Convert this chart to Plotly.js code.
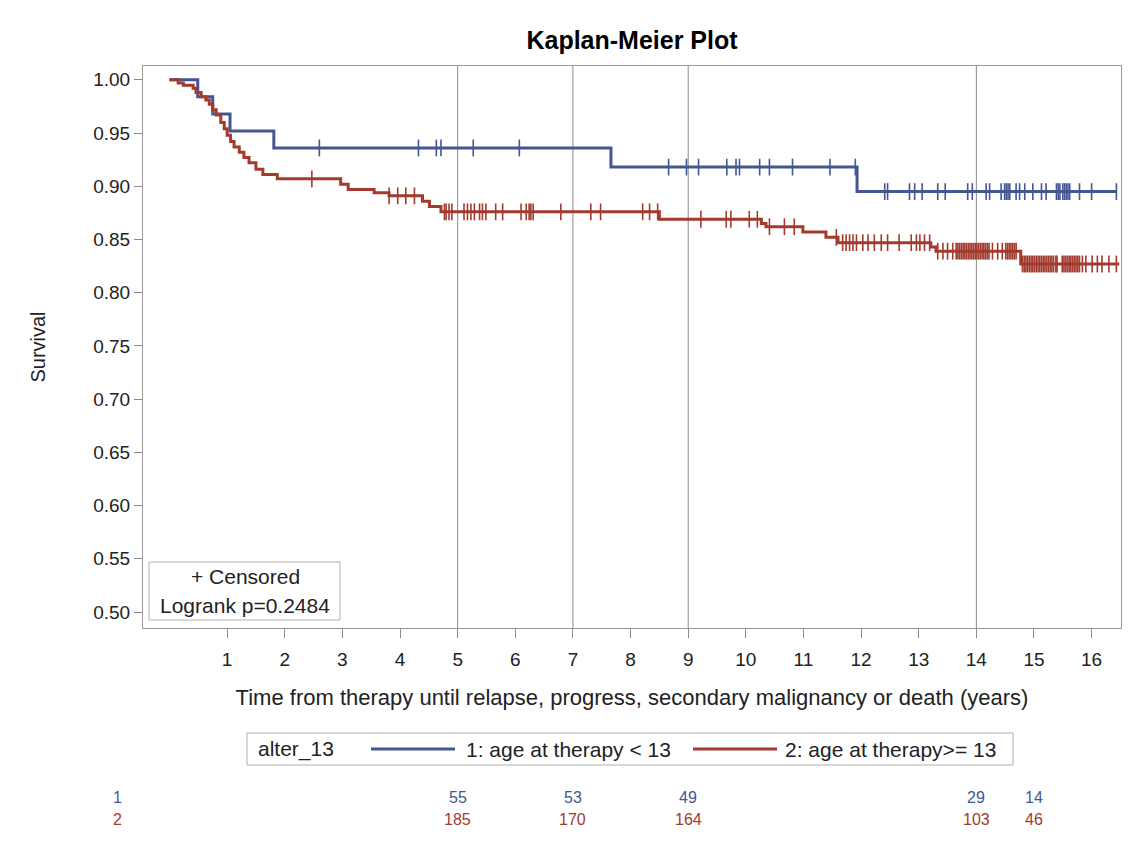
<!DOCTYPE html>
<html>
<head>
<meta charset="utf-8">
<script src="https://cdn.plot.ly/plotly-3.0.1.min.js"></script>
<style>
html,body{margin:0;padding:0;background:#fff;}
#chart{width:1133px;height:849px;}
</style>
</head>
<body>
<div id="chart"></div>
<script>
// ---- data ----
const group1Label = "1: age at therapy < 13";
const group2Label = "2: age at therapy>= 13";

// step function (event times and survival after each step), group 1
const g1Times = [0, 0.49, 0.75, 1.05, 1.81, 7.66, 11.93, 16.43];
const g1Surv  = [1.0, 0.984, 0.968, 0.952, 0.936, 0.918, 0.895, 0.895];
const g1Censor = [2.6, 4.32, 4.63, 4.71, 5.27, 6.07, 8.66, 8.97, 9.18, 9.67, 9.83, 9.89,
  10.24, 10.41, 10.81, 11.46, 11.9, 12.41, 12.46, 12.84, 12.93, 13.06, 13.33, 13.46,
  13.85, 13.93, 14.17, 14.23, 14.43, 14.49, 14.52, 14.55, 14.58, 14.69, 14.75, 14.84,
  14.98, 15.13, 15.21, 15.39, 15.42, 15.45, 15.5, 15.53, 15.56, 15.59, 15.62, 15.79, 16.0, 16.43];

// group 2
const g2Times = [0, 0.15, 0.24, 0.41, 0.46, 0.55, 0.63, 0.69, 0.75, 0.81, 0.89, 0.95, 1.0,
  1.06, 1.12, 1.21, 1.29, 1.38, 1.5, 1.62, 1.87, 2.97, 3.1, 3.55, 3.81, 4.39, 4.51, 4.71,
  8.5, 10.27, 10.35, 10.99, 11.39, 11.6, 13.21, 13.3, 14.77, 16.48];
const g2Surv = [1.0, 0.997, 0.995, 0.992, 0.988, 0.984, 0.981, 0.977, 0.972, 0.967, 0.960,
  0.954, 0.948, 0.942, 0.937, 0.932, 0.927, 0.922, 0.916, 0.911, 0.907, 0.902, 0.897,
  0.894, 0.891, 0.886, 0.881, 0.876, 0.869, 0.865, 0.862, 0.857, 0.852, 0.847, 0.843,
  0.839, 0.827, 0.827];
const g2Censor = [2.47, 3.81, 3.96, 4.1, 4.25, 4.77, 4.8, 4.85, 4.9, 5.11, 5.17, 5.23, 5.29,
  5.38, 5.43, 5.49, 5.66, 5.78, 6.1, 6.19, 6.24, 6.27, 6.31, 6.79, 7.31, 7.48, 8.21, 8.33,
  8.47, 9.22, 9.66, 9.74, 10.06, 10.2, 10.41, 10.67, 10.84, 11.57, 11.68, 11.74, 11.8,
  11.86, 11.92, 12.03, 12.12, 12.23, 12.35, 12.46, 12.66, 12.87, 12.96, 13.02, 13.1, 13.19,
  13.33, 13.42, 13.5, 13.59, 13.65, 13.68, 13.71, 13.74, 13.77, 13.8, 13.83, 13.86, 13.89,
  13.92, 13.95, 13.98, 14.01, 14.04, 14.07, 14.1, 14.13, 14.16, 14.19, 14.22, 14.28, 14.37,
  14.45, 14.51, 14.54, 14.57, 14.6, 14.63, 14.66, 14.69, 14.8, 14.83, 14.86, 14.89, 14.92,
  14.95, 14.98, 15.01, 15.04, 15.07, 15.1, 15.13, 15.16, 15.19, 15.22, 15.25, 15.28, 15.31,
  15.34, 15.38, 15.4, 15.49, 15.52, 15.55, 15.58, 15.61, 15.64, 15.67, 15.7, 15.73, 15.76,
  15.79, 15.84, 15.9, 16.01, 16.1, 16.18, 16.3, 16.43];

// numbers at risk
const atRiskTimes = [5, 7, 9, 14, 15];
const atRisk1 = [55, 53, 49, 29, 14];
const atRisk2 = [185, 170, 164, 103, 46];
const refLineTimes = [5, 7, 9, 14];

const xTicks = [1,2,3,4,5,6,7,8,9,10,11,12,13,14,15,16];
const yTicks = [0.50,0.55,0.60,0.65,0.70,0.75,0.80,0.85,0.90,0.95,1.00];

const pValueText = "Logrank p=0.2484";

// ---- styling ----
const C1 = '#445694', C2 = '#A23A2E';
const FONT = 'Liberation Sans, Arial, sans-serif';

function survAt(times, surv, t){
  let s = surv[0];
  for (let i = 0; i < times.length; i++){ if (times[i] <= t) s = surv[i]; }
  return s;
}

const traces = [
  {x: g1Times, y: g1Surv, mode: 'lines', line: {shape: 'hv', color: C1, width: 3}, name: group1Label, showlegend: false, hoverinfo: 'skip'},
  {x: g2Times, y: g2Surv, mode: 'lines', line: {shape: 'hv', color: C2, width: 3}, name: group2Label, showlegend: false, hoverinfo: 'skip'},
  {x: g1Censor, y: g1Censor.map(t => survAt(g1Times, g1Surv, t)), mode: 'markers',
   marker: {symbol: 'line-ns', size: 12, line: {color: C1, width: 1.6}}, showlegend: false, hoverinfo: 'skip'},
  {x: g2Censor, y: g2Censor.map(t => survAt(g2Times, g2Surv, t)), mode: 'markers',
   marker: {symbol: 'line-ns', size: 12, line: {color: C2, width: 1.6}}, showlegend: false, hoverinfo: 'skip'}
];

// plot area in pixels: left 143, right 1121, top 66, bottom 628
const PL = 143, PR = 1121, PT = 66, PB = 628;
const px = v => (v - PL) / (PR - PL);
const py = v => (PB - v) / (PB - PT);

const shapes = [];
refLineTimes.forEach(t => shapes.push({type: 'line', xref: 'x', yref: 'paper', x0: t, x1: t, y0: 0, y1: 1,
  line: {color: '#8a8a8a', width: 1}, layer: 'below'}));
// inset box
shapes.push({type: 'rect', xref: 'paper', yref: 'paper', x0: px(149), x1: px(340), y0: py(620), y1: py(562),
  line: {color: '#b0b0b0', width: 1}, fillcolor: 'rgba(0,0,0,0)'});
// legend box and samples
shapes.push({type: 'rect', xref: 'paper', yref: 'paper', x0: px(247), x1: px(1013), y0: py(765), y1: py(733),
  line: {color: '#b0b0b0', width: 1}, fillcolor: 'rgba(0,0,0,0)'});
shapes.push({type: 'line', xref: 'paper', yref: 'paper', x0: px(371), x1: px(455), y0: py(749), y1: py(749),
  line: {color: C1, width: 3}});
shapes.push({type: 'line', xref: 'paper', yref: 'paper', x0: px(693), x1: px(777), y0: py(749), y1: py(749),
  line: {color: C2, width: 3}});

const annotations = [
  {xref: 'paper', yref: 'paper', x: px(245), y: py(576), text: '+ Censored', showarrow: false, xanchor: 'center', yanchor: 'middle', font: {size: 21, color: '#222'}},
  {xref: 'paper', yref: 'paper', x: px(245), y: py(605), text: pValueText, showarrow: false, xanchor: 'center', yanchor: 'middle', font: {size: 21, color: '#222'}},
  {xref: 'paper', yref: 'paper', x: px(256), y: py(749), text: 'alter_13', showarrow: false, xanchor: 'left', yanchor: 'middle', font: {size: 21, color: '#222'}},
  {xref: 'paper', yref: 'paper', x: px(464), y: py(749), text: group1Label, showarrow: false, xanchor: 'left', yanchor: 'middle', font: {size: 21, color: '#222'}},
  {xref: 'paper', yref: 'paper', x: px(783), y: py(749), text: group2Label, showarrow: false, xanchor: 'left', yanchor: 'middle', font: {size: 21, color: '#222'}},
  {xref: 'paper', yref: 'paper', x: px(117), y: py(797), text: '1', showarrow: false, xanchor: 'center', yanchor: 'middle', font: {size: 16, color: C1}},
  {xref: 'paper', yref: 'paper', x: px(117), y: py(819), text: '2', showarrow: false, xanchor: 'center', yanchor: 'middle', font: {size: 16, color: C2}}
];
atRiskTimes.forEach((t, i) => {
  annotations.push({xref: 'x', yref: 'paper', x: t, y: py(797), text: String(atRisk1[i]), showarrow: false, xanchor: 'center', yanchor: 'middle', font: {size: 16, color: C1}});
  annotations.push({xref: 'x', yref: 'paper', x: t, y: py(819), text: String(atRisk2[i]), showarrow: false, xanchor: 'center', yanchor: 'middle', font: {size: 16, color: C2}});
});

const layout = {
  width: 1133, height: 849,
  margin: {l: PL, r: 1133 - PR, t: PT, b: 849 - PB, pad: 0},
  paper_bgcolor: '#fff', plot_bgcolor: '#fff',
  font: {family: FONT, color: '#222'},
  title: {text: '<b>Kaplan-Meier Plot</b>', x: 0.5, xref: 'paper', y: 1 - 40/849, yref: 'container', yanchor: 'middle', font: {size: 25, color: '#000'}},
  xaxis: {range: [-0.46, 16.51], tickvals: xTicks, ticktext: xTicks.map(String), ticks: 'outside', ticklen: 9, tickcolor: '#8a8a8a',
    ticklabelstandoff: 5,
    showgrid: false, zeroline: false, showline: true, mirror: true, linecolor: '#9a9a9a', linewidth: 1,
    tickfont: {size: 19, color: '#222'},
    title: {text: 'Time from therapy until relapse, progress, secondary malignancy or death (years)', font: {size: 22, color: '#222'}, standoff: 20},
    automargin: false},
  yaxis: {range: [0.485, 1.013], tickvals: yTicks, tickformat: '.2f', ticks: 'outside', ticklen: 8, tickcolor: '#8a8a8a',
    showgrid: false, zeroline: false, showline: true, mirror: true, linecolor: '#9a9a9a', linewidth: 1,
    tickfont: {size: 19, color: '#222'},
    title: {text: 'Survival', font: {size: 20, color: '#222'}, standoff: 42},
    automargin: false},
  shapes: shapes,
  annotations: annotations,
  showlegend: false
};

Plotly.newPlot('chart', traces, layout, {displayModeBar: false, staticPlot: true});
</script>
</body>
</html>
